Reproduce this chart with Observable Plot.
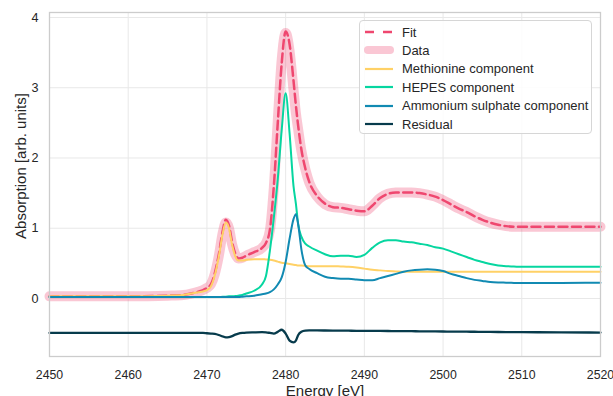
<!DOCTYPE html>
<html>
<head>
<meta charset="utf-8">
<script src="https://cdn.jsdelivr.net/npm/d3@7"></script>
<script src="https://cdn.jsdelivr.net/npm/@observablehq/plot@0.6"></script>
<style>
  html, body { margin: 0; padding: 0; background: #fff; }
  #wrap { position: relative; width: 613px; height: 396px; font-family: "Liberation Sans", Arial, sans-serif; }
  #legend {
    position: absolute; left: 359px; top: 20px; width: 233px; height: 114px;
    box-sizing: border-box; border: 1px solid #d6d6d6; border-radius: 4px;
    background: rgba(255,255,255,0.85); font-size: 13px; color: #262626;
  }
  .entry { position: absolute; left: 0; height: 18px; display: flex; align-items: center; }
  .entry svg { margin-left: 3px; margin-right: 7px; }
</style>
</head>
<body>
<div id="wrap"><div id="legend"></div></div>
<script>
// Sulfur K-edge XANES: measured spectrum, linear-combination fit and its components
const energy = [
  2450, 2455, 2460, 2465, 2467, 2468, 2469, 2469.5, 2470, 2470.5,
  2471, 2471.5, 2472, 2472.4, 2472.8, 2473.2, 2473.6, 2474, 2474.5, 2475,
  2476, 2477, 2477.5, 2478, 2478.5, 2479, 2479.5, 2480, 2480.5, 2481,
  2481.3, 2481.6, 2482, 2482.5, 2483, 2484, 2485, 2486, 2487, 2488,
  2489, 2490, 2491, 2492, 2493, 2494, 2495, 2496, 2497, 2498,
  2499, 2500, 2501, 2502, 2503, 2504, 2505, 2506, 2507, 2508,
  2509, 2510, 2512, 2515, 2520
];

const fit = [
  0.03, 0.03, 0.03, 0.04, 0.05, 0.07, 0.10, 0.12, 0.15, 0.20,
  0.36, 0.62, 0.96, 1.12, 1.04, 0.80, 0.64, 0.57, 0.58, 0.61,
  0.66, 0.72, 0.79, 0.98, 1.60, 2.50, 3.35, 3.80, 3.62, 3.10,
  2.75, 2.45, 2.12, 1.85, 1.66, 1.46, 1.35, 1.30, 1.29, 1.27,
  1.25, 1.24, 1.32, 1.43, 1.49, 1.51, 1.51, 1.51, 1.50, 1.48,
  1.45, 1.40, 1.34, 1.28, 1.23, 1.17, 1.12, 1.08, 1.05, 1.03,
  1.02, 1.02, 1.02, 1.02, 1.02
];

const data = [
  0.03, 0.03, 0.03, 0.04, 0.05, 0.07, 0.10, 0.12, 0.15, 0.20,
  0.35, 0.60, 0.93, 1.08, 1.00, 0.77, 0.63, 0.57, 0.58, 0.61,
  0.66, 0.72, 0.79, 0.97, 1.58, 2.53, 3.40, 3.78, 3.52, 2.97,
  2.64, 2.40, 2.10, 1.84, 1.65, 1.45, 1.34, 1.30, 1.29, 1.27,
  1.25, 1.24, 1.32, 1.43, 1.49, 1.51, 1.51, 1.51, 1.50, 1.48,
  1.45, 1.40, 1.34, 1.28, 1.23, 1.17, 1.12, 1.08, 1.05, 1.03,
  1.02, 1.02, 1.02, 1.02, 1.02
];

const methionine = [
  0.03, 0.03, 0.03, 0.04, 0.05, 0.07, 0.09, 0.10, 0.12, 0.17,
  0.33, 0.59, 0.92, 1.08, 1.00, 0.76, 0.60, 0.54, 0.54, 0.55,
  0.56, 0.56, 0.555, 0.55, 0.54, 0.525, 0.51, 0.50, 0.49, 0.48,
  0.475, 0.47, 0.47, 0.465, 0.46, 0.46, 0.46, 0.46, 0.455, 0.45,
  0.44, 0.425, 0.41, 0.40, 0.39, 0.385, 0.38, 0.38, 0.38, 0.38,
  0.38, 0.38, 0.38, 0.38, 0.38, 0.38, 0.38, 0.38, 0.38, 0.38,
  0.38, 0.38, 0.38, 0.38, 0.38
];

const hepes = [
  0.02, 0.02, 0.02, 0.02, 0.02, 0.02, 0.02, 0.02, 0.02, 0.02,
  0.02, 0.02, 0.025, 0.025, 0.03, 0.03, 0.035, 0.04, 0.05, 0.07,
  0.11, 0.20, 0.32, 0.68, 1.15, 1.70, 2.40, 2.92, 2.35, 1.60,
  1.35, 1.05, 0.88, 0.78, 0.74, 0.68, 0.63, 0.60, 0.61, 0.61,
  0.59, 0.62, 0.72, 0.80, 0.83, 0.83, 0.81, 0.80, 0.78, 0.76,
  0.73, 0.71, 0.67, 0.63, 0.59, 0.55, 0.52, 0.49, 0.47, 0.46,
  0.455, 0.45, 0.45, 0.45, 0.45
];

const ammonium = [
  0.02, 0.02, 0.02, 0.02, 0.02, 0.02, 0.02, 0.02, 0.02, 0.02,
  0.02, 0.02, 0.02, 0.02, 0.02, 0.02, 0.02, 0.02, 0.025, 0.03,
  0.04, 0.06, 0.07, 0.09, 0.13, 0.20, 0.30, 0.52, 0.85, 1.13,
  1.20, 1.05, 0.70, 0.47, 0.42, 0.36, 0.31, 0.29, 0.28, 0.28,
  0.27, 0.26, 0.26, 0.29, 0.32, 0.35, 0.38, 0.40, 0.41, 0.415,
  0.41, 0.39, 0.35, 0.32, 0.29, 0.265, 0.25, 0.235, 0.228, 0.225,
  0.222, 0.22, 0.22, 0.222, 0.225
];

// residual (data - fit), drawn shifted down by 0.5
const residual = [
  -0.49, -0.49, -0.49, -0.49, -0.49, -0.49, -0.49, -0.49, -0.495, -0.50,
  -0.505, -0.52, -0.54, -0.553, -0.55, -0.535, -0.515, -0.50, -0.49, -0.485,
  -0.482, -0.48, -0.482, -0.49, -0.50, -0.475, -0.445, -0.50, -0.60, -0.625,
  -0.60, -0.52, -0.475, -0.458, -0.455, -0.455, -0.456, -0.457, -0.458, -0.459,
  -0.46, -0.46, -0.461, -0.462, -0.463, -0.464, -0.465, -0.466, -0.467, -0.468,
  -0.469, -0.47, -0.471, -0.472, -0.473, -0.474, -0.475, -0.476, -0.477, -0.478,
  -0.479, -0.48, -0.481, -0.483, -0.485
];

const xTicks = [2450, 2460, 2470, 2480, 2490, 2500, 2510, 2520];
const yTicks = [0, 1, 2, 3, 4];

const seriesNames = ["Fit", "Data", "Methionine component", "HEPES component", "Ammonium sulphate component", "Residual"];
const colors = {
  "Fit": "#ef476f",
  "Data": "#ef476f",
  "Methionine component": "#ffd166",
  "HEPES component": "#06d6a0",
  "Ammonium sulphate component": "#118ab2",
  "Residual": "#073b4c"
};

const rows = (values) => energy.map((e, i) => ({e, v: values[i]}));

const line = (values, opts) => Plot.line(rows(values), {x: "e", y: "v", curve: "monotone-x", ...opts});

const chart = Plot.plot({
  width: 613,
  height: 396,
  marginLeft: 49,
  marginRight: 13,
  marginTop: 12,
  marginBottom: 40,
  style: {fontFamily: "'Liberation Sans', Arial, sans-serif", fontSize: "12.6px", color: "#262626", background: "white"},
  x: {domain: [2450, 2520]},
  y: {domain: [-0.826, 4.071]},
  marks: [
    Plot.gridX(xTicks, {stroke: "#e8e8e8", strokeOpacity: 1, strokeWidth: 1}),
    Plot.gridY(yTicks, {stroke: "#e8e8e8", strokeOpacity: 1, strokeWidth: 1}),
    Plot.axisX(xTicks, {tickSize: 0, tickPadding: 14, tickFormat: d => String(d), label: null, fill: "#262626", fontSize: 12.3}),
    Plot.axisY(yTicks, {tickSize: 0, tickPadding: 11, tickFormat: d => String(d), label: null, fill: "#262626"}),
    Plot.text(["Energy [eV]"], {text: d => d, frameAnchor: "bottom", lineAnchor: "top", dy: 29, fontSize: 15, fill: "#262626"}),
    line(data, {stroke: colors["Data"], strokeOpacity: 0.3, strokeWidth: 10, strokeLinecap: "round"}),
    line(fit, {stroke: colors["Fit"], strokeWidth: 2.5, strokeDasharray: "9,4.5"}),
    line(methionine, {stroke: colors["Methionine component"], strokeWidth: 2}),
    line(hepes, {stroke: colors["HEPES component"], strokeWidth: 2}),
    line(ammonium, {stroke: colors["Ammonium sulphate component"], strokeWidth: 2}),
    line(residual, {stroke: colors["Residual"], strokeWidth: 2.3}),
    Plot.frame({stroke: "#cccccc", strokeWidth: 1.3})
  ]
});

// vertical y-axis title, placed beside the tick labels
d3.select(chart).append("text")
  .attr("transform", "translate(22,166) rotate(-90)")
  .attr("text-anchor", "middle")
  .attr("dominant-baseline", "middle")
  .attr("fill", "#262626")
  .style("font-size", "15px")
  .text("Absorption [arb. units]");

const wrap = document.getElementById("wrap");
wrap.insertBefore(chart, wrap.firstChild);

// legend entries
const legend = document.getElementById("legend");
seriesNames.forEach((name, i) => {
  const row = document.createElement("div");
  row.className = "entry";
  row.style.top = (2 + i * 18.4) + "px";
  let swatch;
  if (name === "Fit") {
    swatch = `<line x1="2" y1="6" x2="30" y2="6" stroke="${colors[name]}" stroke-width="2.5" stroke-dasharray="9,9"/>`;
  } else if (name === "Data") {
    swatch = `<line x1="5" y1="6" x2="27" y2="6" stroke="${colors[name]}" stroke-opacity="0.3" stroke-width="8" stroke-linecap="round"/>`;
  } else {
    swatch = `<line x1="2" y1="6" x2="30" y2="6" stroke="${colors[name]}" stroke-width="2.2"/>`;
  }
  row.innerHTML = `<svg width="32" height="12">${swatch}</svg><span>${name}</span>`;
  legend.appendChild(row);
});
</script>
</body>
</html>
